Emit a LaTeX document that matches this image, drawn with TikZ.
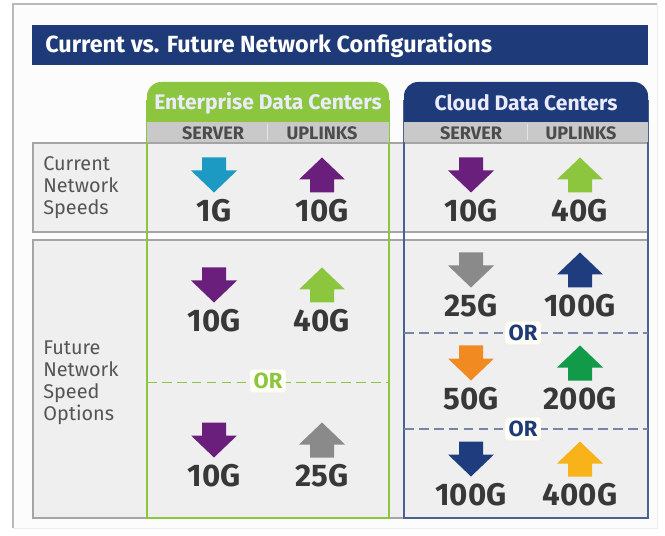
\documentclass[tikz,border=0pt]{standalone}
\usepackage{fontspec}
\setmainfont{Fira Sans}
\usepackage{tikz}
\usetikzlibrary{calc}

\definecolor{navy}{HTML}{1F3A78}
\definecolor{entgreen}{HTML}{8CC63F}
\definecolor{subgray}{HTML}{C9C9C9}
\definecolor{boxgray}{HTML}{EFEFEF}
\definecolor{linegray}{HTML}{A5A5A5}
\definecolor{txtgray}{HTML}{383838}
\definecolor{lblgray}{HTML}{555555}
\definecolor{clouddash}{HTML}{7886A6}
% arrow colours
\definecolor{aTeal}{HTML}{1C9AC4}
\definecolor{aPurple}{HTML}{6B1F7C}
\definecolor{aGreen}{HTML}{8CC63F}
\definecolor{aGray}{HTML}{8A8A8A}
\definecolor{aNavy}{HTML}{1F3C7E}
\definecolor{aOrange}{HTML}{F28A22}
\definecolor{aDkGreen}{HTML}{119A48}
\definecolor{aGold}{HTML}{F8B31B}

\tikzset{
  speedarrow/.pic={\fill (-12,-17.5) -- (12,-17.5) -- (12,-4.5) -- (23,-4.5) -- (0,17.5) -- (-23,-4.5) -- (-12,-4.5) -- cycle;},
  speed/.style={font=\bfseries\fontsize{17.8}{19}\selectfont, text=txtgray, inner sep=0},
  colhead/.style={font=\bfseries\fontsize{10.3}{12}\selectfont, text=txtgray!90, inner sep=0},
  dchead/.style={font=\bfseries\fontsize{12}{14}\selectfont, text=white!92!blue, inner sep=0},
  rowlabel/.style={font=\fontsize{11.3}{12.5}\selectfont, text=lblgray, align=left, anchor=west, inner sep=0},
  orlabel/.style={font=\bfseries\fontsize{12.5}{14}\selectfont, fill=white!97!yellow, inner sep=2pt, rounded corners=2pt},
}

\begin{document}
\begin{tikzpicture}[x=0.02cm, y=-0.02cm]
\useasboundingbox (0,0) rectangle (665,536);

% frame
\fill[white!98!gray] (13,4) rectangle (657,528);
\draw[gray!15] (657,4) -- (657,528) -- (13,528);
\draw[gray!55, line width=0.8pt] (13,528) -- (13,4) -- (657,4);

% title bar
\fill[navy] (32,25) rectangle (648,65);
\node[anchor=west, text=white, font=\bfseries\fontsize{13.3}{16}\selectfont, inner sep=0] (title) at (45,46) {Current vs. Future Network Configurations};

% row boxes
\draw[linegray, fill=boxgray, line width=0.8pt] (33,143) rectangle (648,232);
\draw[linegray, fill=boxgray, line width=0.8pt] (33,240) rectangle (648,518);
\node[rowlabel] (curlbl) at (43,188) {Current\\Network\\Speeds};
\node[rowlabel] (futlbl) at (43,383) {Future\\Network\\Speed\\Options};

% column outlines
\draw[entgreen, line width=0.6pt] (147,100) -- (147,518) -- (389,518) -- (389,100);
\draw[navy!80, line width=0.6pt] (404,100) -- (404,518) -- (648,518) -- (648,100);

% column headers
\fill[entgreen] (147,122) [rounded corners=8pt] -- (147,82) -- (389,82) [sharp corners] -- (389,122) -- cycle;
\fill[navy] (404,122) [rounded corners=8pt] -- (404,82) -- (648,82) [sharp corners] -- (648,122) -- cycle;
\fill[subgray] (147,122) rectangle (389,142);
\fill[subgray] (404,122) rectangle (648,142);
\draw[white!80!gray] (267,124) -- (267,140);
\draw[white!80!gray] (527,124) -- (527,140);
\node[dchead] (enthead) at (268,103) {Enterprise Data Centers};
\node[dchead] (cldhead) at (526,103) {Cloud Data Centers};
\foreach \x/\t [count=\k] in {213/SERVER, 322/UPLINKS, 471/SERVER, 581/UPLINKS}
  \node[colhead] (sub\k) at (\x,133) {\t};

% OR separators
\draw[entgreen, dash pattern=on 5.5pt off 3pt] (147,382) -- (389,382);
\draw[clouddash, line width=0.7pt, dash pattern=on 5.5pt off 3pt] (404,333) -- (648,333);
\draw[clouddash, line width=0.7pt, dash pattern=on 5.5pt off 3pt] (404,429) -- (648,429);
\node[orlabel, text=entgreen] (or1) at (268,381) {OR};
\node[orlabel, text=navy] (or2) at (523,333) {OR};
\node[orlabel, text=navy] (or3) at (523,429) {OR};

% arrows and speeds (1 = down, -1 = up)
\foreach \x/\y/\c/\d/\v [count=\k] in {
    214/175/aTeal/1/1G, 322/175/aPurple/-1/10G,
    214/285/aPurple/1/10G, 322/285/aGreen/-1/40G,
    214/440/aPurple/1/10G, 322/440/aGray/-1/25G,
    471/175/aPurple/1/10G, 580/175/aGreen/-1/40G,
    471/270/aGray/1/25G, 580/270/aNavy/-1/100G,
    471/363/aOrange/1/50G, 580/363/aDkGreen/-1/200G,
    471/459/aNavy/1/100G, 580/459/aGold/-1/400G} {
  \pic[fill=\c, yscale=\d] at (\x,\y) {speedarrow};
  \node[speed] (spd\k) at (\x,\y+36) {\v};
}
\end{tikzpicture}
\end{document}
